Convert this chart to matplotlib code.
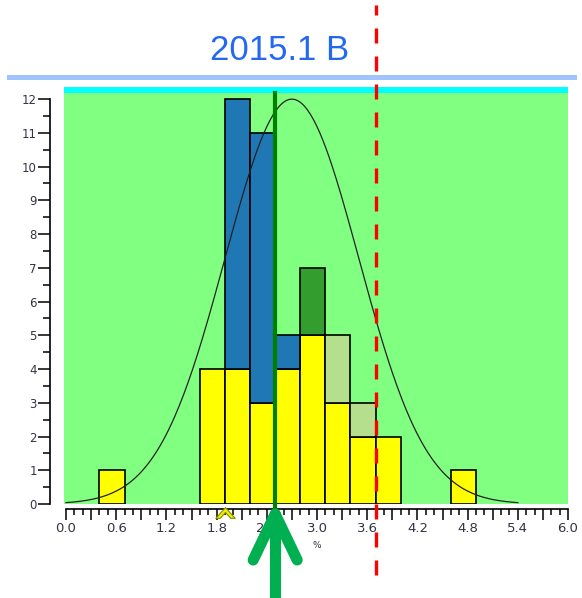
import numpy as np
import matplotlib
matplotlib.use("Agg")
import matplotlib.pyplot as plt
from matplotlib.ticker import MultipleLocator, FuncFormatter
from matplotlib.transforms import blended_transform_factory
from matplotlib.lines import Line2D
from matplotlib.patches import Rectangle
from matplotlib.path import Path

# histogram bins (left edges, width 0.3) and stacked counts
bin_lefts = [0.4, 1.6, 1.9, 2.2, 2.5, 2.8, 3.1, 3.4, 3.7, 4.6]
bin_width = 0.3
yellow_counts = [1, 4, 4, 3, 4, 5, 3, 2, 2, 1]
blue_counts = [0, 0, 8, 8, 1, 0, 0, 0, 0, 0]
dark_green_counts = [0, 0, 0, 0, 0, 2, 0, 0, 0, 0]
light_green_counts = [0, 0, 0, 0, 0, 0, 2, 1, 0, 0]

# fitted normal curve and reference lines
curve_mean = 2.7
curve_sd = 0.8
curve_peak = 12.0
curve_range = (0.0, 5.4)
median_line = 2.5
limit_line = 3.7
marker_x = 1.9

title = "2015.1 B"
x_label = "%"

W, H = 582, 598
fig = plt.figure(figsize=(W / 100, H / 100), dpi=100, facecolor="white")
ax = fig.add_axes([64 / W, (H - 504) / H, (568 - 64) / W, (504 - 87) / H])
ax.set_facecolor("#80FF80")
ax.set_xlim(-0.024, 6.0)
ax.set_ylim(0, 12.36)
ax.axhspan(12.19, 12.36, color="#00FFFF", lw=0, zorder=0.5)

# stacked bars
yel = np.array(yellow_counts)
layers = [(blue_counts, "#1F77B4"), (dark_green_counts, "#339E2D"),
          (light_green_counts, "#B5DF8C")]
ax.bar(bin_lefts, yel, width=bin_width, align="edge", color="#FFFF00",
       edgecolor="black", linewidth=1.2, zorder=2)
for counts, col in layers:
    c = np.array(counts)
    m = c > 0
    ax.bar(np.array(bin_lefts)[m], c[m], bottom=yel[m], width=bin_width,
           align="edge", color=col, edgecolor="black", linewidth=1.2, zorder=2)

# normal curve
xs = np.linspace(curve_range[0], curve_range[1], 300)
ys = curve_peak * np.exp(-0.5 * ((xs - curve_mean) / curve_sd) ** 2)
ax.plot(xs, ys, color="#222222", lw=0.9, zorder=3)

# median line and limit line
ax.axvline(median_line, ymin=-0.012, ymax=0.985, color="#008000", lw=3,
           clip_on=False, zorder=4)
ax.axvline(limit_line, ymin=-0.17, ymax=1.197, color="#FF0000", lw=2.4,
           linestyle=(0, (4.5, 3.9)), clip_on=False, zorder=5)

# spines and ticks
for s in ["top", "right"]:
    ax.spines[s].set_visible(False)
ax.spines["left"].set_position(("outward", 10))
ax.spines["bottom"].set_position(("outward", 3.6))
ax.spines["left"].set_bounds(0, 12)
ax.spines["bottom"].set_bounds(0, 6)
ax.spines["left"].set_linewidth(1.2)
ax.spines["bottom"].set_linewidth(1.2)

ax.yaxis.set_major_locator(MultipleLocator(1))
ax.yaxis.set_minor_locator(MultipleLocator(0.5))
ax.xaxis.set_major_locator(MultipleLocator(0.3))
ax.xaxis.set_minor_locator(MultipleLocator(0.1))
ax.xaxis.set_major_formatter(FuncFormatter(
    lambda v, p: f"{v:.1f}" if abs(round(v / 0.6) * 0.6 - v) < 1e-6 else ""))
ax.set_yticks(range(0, 13))
ax.tick_params(axis="y", which="major", length=8.6, width=1.1, pad=1,
               labelsize=8.5, labelcolor="#333344")
ax.tick_params(axis="y", which="minor", length=5, width=1.1)
ax.tick_params(axis="x", which="major", length=7.7, width=1.1, pad=2,
               labelsize=9.5, labelcolor="#333344")
ax.tick_params(axis="x", which="minor", length=4, width=1.1)
ax.set_xlim(-0.024, 6.0)

# small chevron marker under axis
chevron = Path([(-1, -0.5), (0, 0.6), (1, -0.5), (0.55, -0.5), (0, 0.1),
                (-0.55, -0.5), (-1, -0.5)],
               [Path.MOVETO] + [Path.LINETO] * 5 + [Path.CLOSEPOLY])
ax.plot([marker_x], [-0.022], marker=chevron, markersize=14,
        markerfacecolor="#F0F000", markeredgecolor="#8A8A00",
        markeredgewidth=0.8, clip_on=False, zorder=6,
        transform=blended_transform_factory(ax.transData, ax.transAxes))

# "%" label
fig.text((66 + 3.0 * 83.7) / W, 1 - 545 / H, x_label, ha="center",
         va="center", fontsize=6.5, color="#333344")

# title and rule under it
fig.text(280 / W, 1 - 50 / H, title, ha="center", va="center",
         fontsize=25, color="#2468F2", family="Liberation Sans")
fig.add_artist(Rectangle((7 / W, 1 - 80 / H), (577 - 7) / W, 5 / H,
                         transform=fig.transFigure, color="#A0C4FF", lw=0))

# green arrow pointing at median line
tr = blended_transform_factory(ax.transData, fig.transFigure)
tip_y = 1 - 514 / H
arm_y = 1 - 560 / H
arm_dx = 22 / 83.7
arrow_kw = dict(color="#00B050", lw=8, solid_capstyle="round",
                solid_joinstyle="round", transform=tr, clip_on=False)
fig.add_artist(Line2D([median_line, median_line], [0.0, tip_y], **arrow_kw))
fig.add_artist(Line2D([median_line - arm_dx, median_line, median_line + arm_dx],
                      [arm_y, tip_y, arm_y], **arrow_kw))

fig.savefig("out.png", dpi=100, facecolor="white")
